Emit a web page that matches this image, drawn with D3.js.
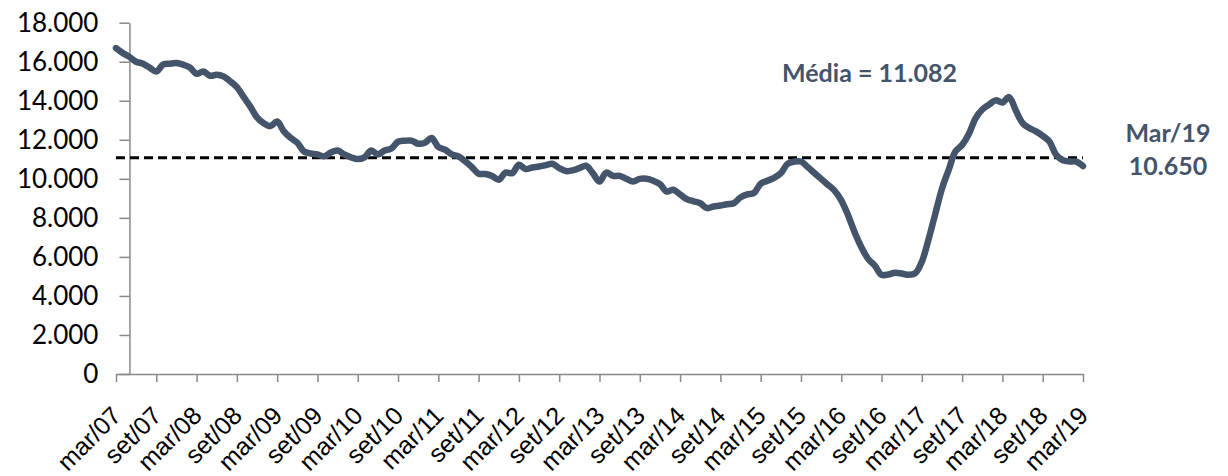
<!DOCTYPE html>
<html>
<head>
<meta charset="utf-8">
<script src="https://cdnjs.cloudflare.com/ajax/libs/d3/7.8.5/d3.min.js"></script>
<style>
  body { margin: 0; background: #fff; }
  svg { display: block; font-family: Lato, "Open Sans", sans-serif; }
</style>
</head>
<body>
<div id="chart"></div>
<script>
// monthly series, mar/07 .. mar/19
const values = [
  16700, 16450, 16250, 16000, 15900, 15700, 15500, 15850, 15900, 15930, 15850, 15700,
  15380, 15500, 15280, 15330, 15250, 15000, 14700, 14200, 13700, 13150, 12850, 12700,
  12940, 12430, 12100, 11850, 11400, 11300, 11250, 11150, 11350, 11450, 11250, 11100,
  11010, 11100, 11450, 11250, 11450, 11550, 11900, 11950, 11960, 11800, 11850, 12090,
  11630, 11500, 11250, 11150, 10900, 10600, 10260, 10250, 10150, 9950, 10320, 10290,
  10720, 10500, 10580, 10630, 10700, 10770, 10550, 10400, 10430, 10550, 10670, 10290,
  9860, 10320, 10150, 10150, 10000, 9860, 10000, 10000, 9900, 9730, 9350, 9440,
  9200, 8960, 8850, 8750, 8500, 8580, 8630, 8700, 8750, 9050, 9200, 9270,
  9750, 9900, 10050, 10290, 10770, 10880, 10890, 10600, 10300, 10000, 9700, 9400,
  8900, 8150, 7250, 6500, 5900, 5550, 5080, 5100, 5190, 5150, 5080, 5150,
  5750, 6900, 8200, 9500, 10460, 11400, 11740, 12300, 13100, 13550, 13800, 14020,
  13910, 14190, 13500, 12860, 12600, 12430, 12200, 11910, 11230, 10950, 10890, 10880,
  10650
]
const tickLabels = [
  "mar/07", "set/07", "mar/08", "set/08", "mar/09", "set/09", "mar/10", "set/10",
  "mar/11", "set/11", "mar/12", "set/12", "mar/13", "set/13", "mar/14", "set/14",
  "mar/15", "set/15", "mar/16", "set/16", "mar/17", "set/17", "mar/18", "set/18", "mar/19"
]
const yTicks = [0, 2000, 4000, 6000, 8000, 10000, 12000, 14000, 16000, 18000]
const media = 11082
const lastLabel = ["Mar/19", "10.650"]

const W = 1228, H = 476
const LINE_COLOR = "#44546a"
const AXIS_COLOR = "#898989"
const yAxisAt = 2 // vertical axis crosses at may/07

const ptbr = d3.formatLocale({ decimal: ",", thousands: ".", grouping: [3], currency: ["", ""] })
const fmt = ptbr.format(",d")

const svg = d3.select("#chart").append("svg")
  .attr("width", W)
  .attr("height", H)

const x = d3.scaleLinear()
  .domain([0, values.length - 1])
  .range([116, 1083])

const y = d3.scaleLinear()
  .domain([0, 18000])
  .range([374, 22.7])

// x axis
const xAxis = svg.append("g")
  .attr("transform", "translate(0," + y(0) + ")")
  .call(d3.axisBottom(x)
    .tickValues(tickLabels.map((d, i) => i * 6))
    .tickSizeInner(8)
    .tickSizeOuter(0)
    .tickFormat(""))
xAxis.selectAll("path, line").attr("stroke", AXIS_COLOR).attr("stroke-width", 1.5)
xAxis.selectAll(".tick text").remove()

xAxis.selectAll(".tick")
  .append("text")
  .attr("transform", "translate(0,37) rotate(-45)")
  .attr("text-anchor", "end")
  .attr("dy", "0.35em")
  .attr("fill", "#000")
  .style("font-size", "25px")
  .text((d, i) => tickLabels[i])

// y axis
const yAxis = svg.append("g")
  .attr("transform", "translate(" + x(yAxisAt) + ",0)")
  .call(d3.axisLeft(y)
    .tickValues(yTicks)
    .tickSizeInner(10)
    .tickSizeOuter(0)
    .tickPadding(21)
    .tickFormat(fmt))
yAxis.selectAll("path, line").attr("stroke", AXIS_COLOR).attr("stroke-width", 1.5)
yAxis.selectAll("text")
  .attr("fill", "#000")
  .style("font-size", "26px")
  .style("font-family", "Lato, sans-serif")

// mean line
svg.append("line")
  .attr("x1", x(0))
  .attr("x2", x(values.length - 1))
  .attr("y1", y(media))
  .attr("y2", y(media))
  .attr("stroke", "#000")
  .attr("stroke-width", 3)
  .attr("stroke-dasharray", "9,5")

// series
const line = d3.line()
  .x((d, i) => x(i))
  .y(d => y(d))
  .curve(d3.curveCatmullRom.alpha(0.5))

svg.append("path")
  .datum(values)
  .attr("d", line)
  .attr("fill", "none")
  .attr("stroke", LINE_COLOR)
  .attr("stroke-width", 6.5)
  .attr("stroke-linejoin", "round")
  .attr("stroke-linecap", "round")

// annotations
svg.append("text")
  .attr("x", 782)
  .attr("y", 82)
  .attr("fill", LINE_COLOR)
  .style("font-size", "25px")
  .style("font-weight", "bold")
  .text("Média = " + fmt(media))

svg.append("g")
  .selectAll("text")
  .data(lastLabel)
  .enter()
  .append("text")
  .attr("x", 1168)
  .attr("y", (d, i) => 142 + i * 33)
  .attr("text-anchor", "middle")
  .attr("fill", LINE_COLOR)
  .style("font-size", "25px")
  .style("font-weight", "bold")
  .text(d => d)
</script>
</body>
</html>
